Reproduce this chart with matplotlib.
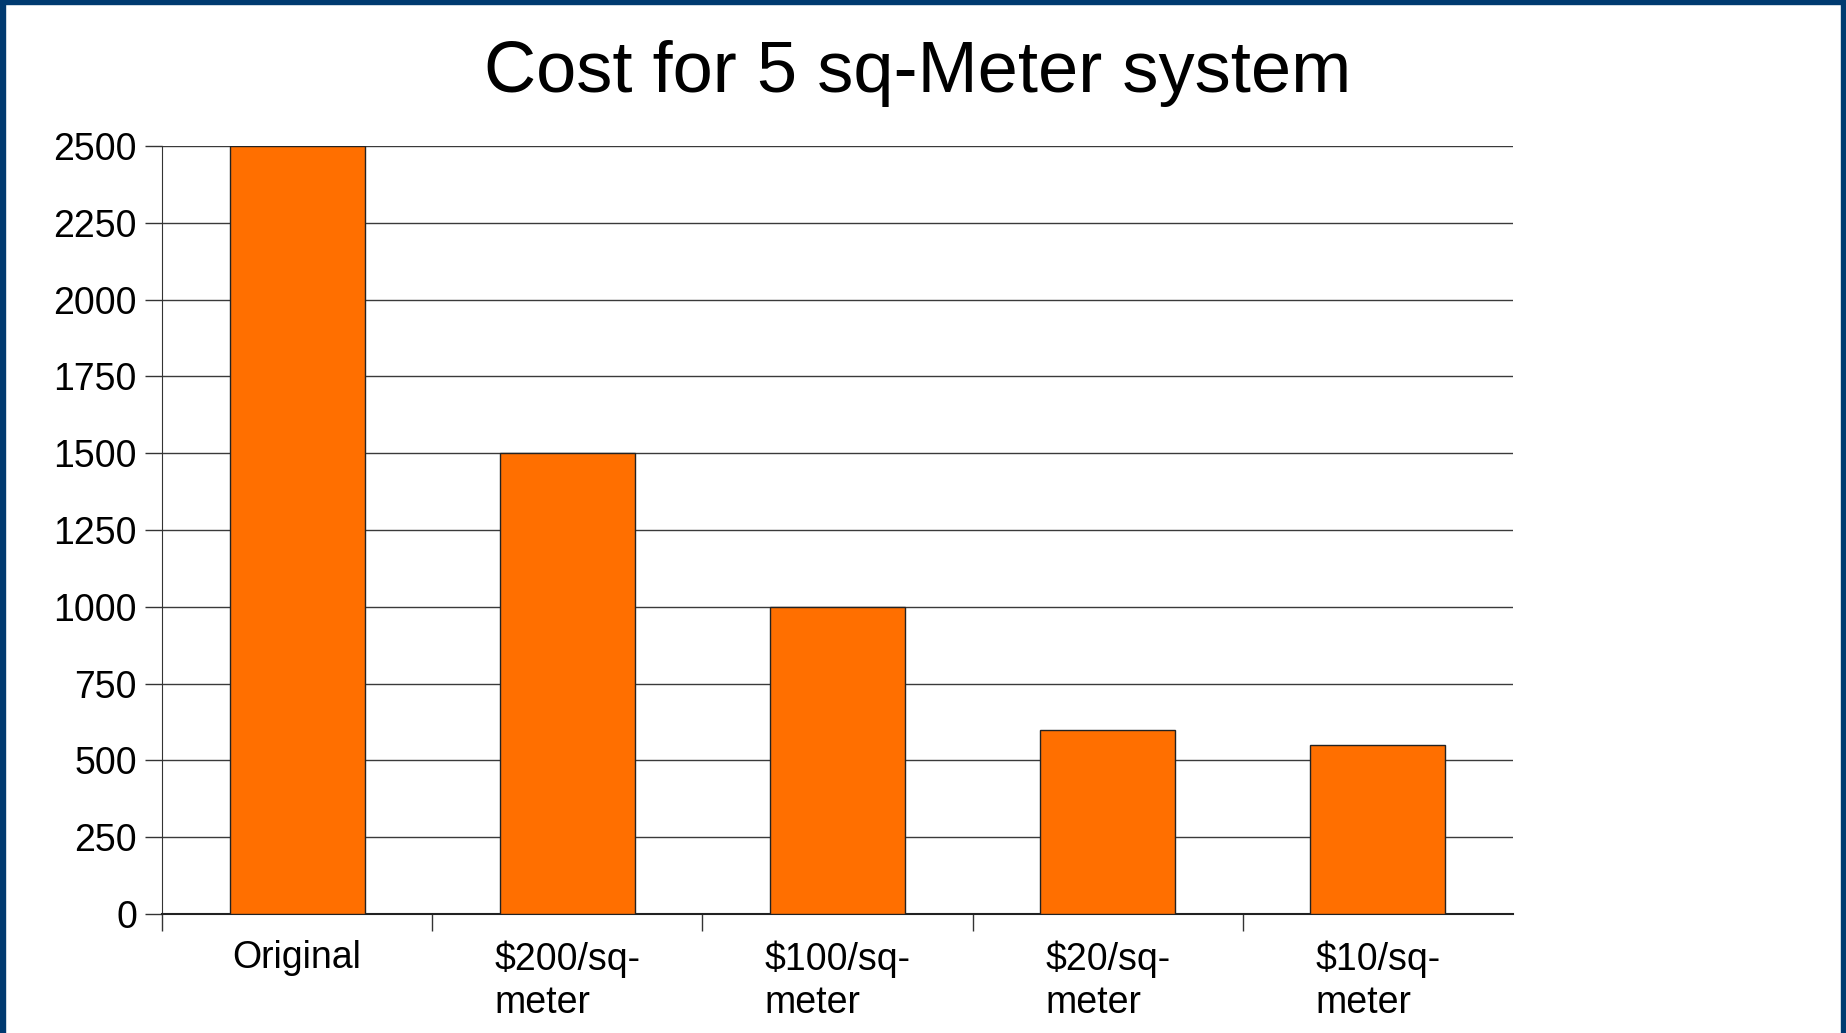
import matplotlib.pyplot as plt
from matplotlib.patches import Rectangle
import numpy as np

# Chart data
categories = ['Original', '$200/sq-\nmeter', '$100/sq-\nmeter', '$20/sq-\nmeter', '$10/sq-\nmeter']
costs = [2500, 1500, 1000, 600, 550]
y_ticks = [0, 250, 500, 750, 1000, 1250, 1500, 1750, 2000, 2250, 2500]

plt.rcParams['font.family'] = ['Liberation Sans', 'DejaVu Sans']

W, H = 1846, 1033
fig = plt.figure(figsize=(W / 100, H / 100), dpi=100)
fig.patch.set_facecolor('white')

# dark blue slide frame (left, top, right)
border = '#003a70'
fig.patches.append(Rectangle((0, 0), 5 / W, 1, transform=fig.transFigure, color=border, zorder=10))
fig.patches.append(Rectangle((0, 1 - 4 / H), 1, 4 / H, transform=fig.transFigure, color=border, zorder=10))
fig.patches.append(Rectangle((1 - 5 / W, 0), 5 / W, 1, transform=fig.transFigure, color=border, zorder=10))

ax = fig.add_axes([162 / W, 1 - 914 / H, (1513 - 162) / W, (914 - 146) / H])

x = np.arange(len(categories))
ax.bar(x, costs, width=0.5, color='#ff6f00', edgecolor='#222222', linewidth=1, zorder=3)

ax.set_xlim(-0.5, len(categories) - 0.5)
ax.set_ylim(0, 2500)
ax.set_yticks(y_ticks)
ax.set_yticklabels([str(v) for v in y_ticks], fontsize=27)
ax.yaxis.grid(True, color='#3a3a3a', linewidth=1)
ax.set_axisbelow(True)

# category labels centred, boundary tick marks
ax.set_xticks(x)
ax.set_xticklabels(categories, fontsize=27, multialignment='left', linespacing=1.24)
ax.tick_params(axis='x', which='major', length=0, pad=19)
ax.set_xticks(np.arange(-0.5, len(categories) - 1), minor=True)
ax.tick_params(axis='x', which='minor', length=12, width=1, color='#333333')
ax.tick_params(axis='y', length=12, width=1, color='#333333', pad=6)

for side in ['top', 'right']:
    ax.spines[side].set_visible(False)
ax.spines['left'].set_color('#333333')
ax.spines['bottom'].set_color('#222222')
ax.spines['bottom'].set_linewidth(1.5)

fig.text(918 / W, 1 - 92 / H, 'Cost for 5 sq-Meter system', fontsize=52,
         ha='center', va='baseline')

fig.savefig('out.png', dpi=100)
